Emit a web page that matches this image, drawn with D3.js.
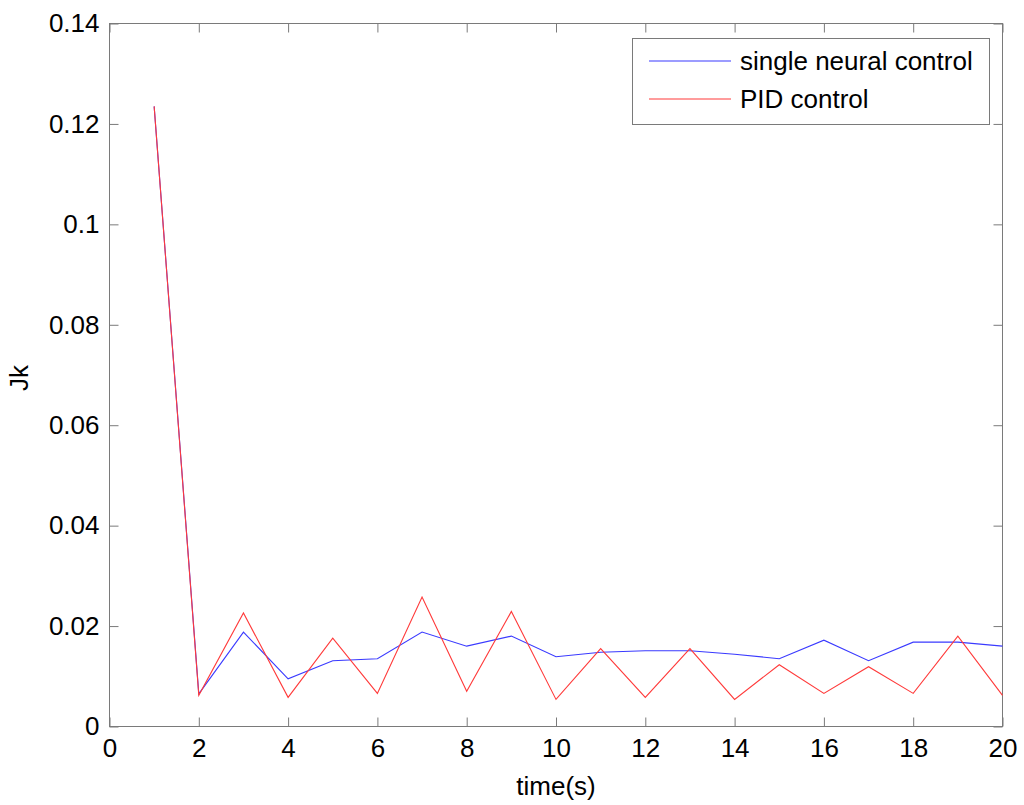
<!DOCTYPE html>
<html>
<head>
<meta charset="utf-8">
<script src="https://cdn.jsdelivr.net/npm/d3@7"></script>
<style>
  body { margin: 0; background: #fff; }
  text { font-family: "Liberation Sans", Arial, sans-serif; fill: #000; }
</style>
</head>
<body>
<div id="chart"></div>
<script>
// time steps and the two cost curves
var time = [1, 2, 3, 4, 5, 6, 7, 8, 9, 10, 11, 12, 13, 14, 15, 16, 17, 18, 19, 20];
var neural = [0.1235, 0.0065, 0.0188, 0.0095, 0.0131, 0.0135, 0.0188, 0.0160, 0.0180, 0.0139,
              0.0148, 0.0151, 0.0151, 0.0144, 0.0135, 0.0172, 0.0131, 0.0168, 0.0168, 0.0160];
var pid = [0.1235, 0.0062, 0.0226, 0.0058, 0.0176, 0.0066, 0.0258, 0.0070, 0.0229, 0.0054,
           0.0155, 0.0058, 0.0155, 0.0054, 0.0123, 0.0066, 0.0119, 0.0066, 0.0180, 0.0062];
var x_ticks = [0, 2, 4, 6, 8, 10, 12, 14, 16, 18, 20];
var y_ticks = [0, 0.02, 0.04, 0.06, 0.08, 0.1, 0.12, 0.14];
var series_names = ['single neural control', 'PID control'];
var series_colors = ['#3a3aff', '#ff3a3a'];

var chart_width  = 1024;
var chart_height = 805;
var plot_left = 109.5, plot_right = 1002.5, plot_top = 23.5, plot_bottom = 726.5;
var tick_len  = 9;
var font_size = 26;

var x_scale = d3.scaleLinear().domain([0, 20]).range([plot_left, plot_right]);
var y_scale = d3.scaleLinear().domain([0, 0.14]).range([plot_bottom, plot_top]);

var svg = d3.select('#chart')
            .append('svg')
            .attr('width', chart_width)
            .attr('height', chart_height);

// box frame
svg.append('rect')
   .attr('x', plot_left).attr('y', plot_top)
   .attr('width', plot_right - plot_left).attr('height', plot_bottom - plot_top)
   .attr('fill', 'none')
   .attr('stroke', '#7a7a7a')
   .attr('stroke-width', 1);

function fmt(d) { return d === 0 ? '0' : String(d); }

// axes with inward ticks (all four sides)
var x_bottom = d3.axisBottom(x_scale).tickValues(x_ticks).tickSize(-tick_len).tickPadding(12).tickFormat(fmt);
var x_top    = d3.axisTop(x_scale).tickValues(x_ticks).tickSize(-tick_len).tickFormat('');
var y_left   = d3.axisLeft(y_scale).tickValues(y_ticks).tickSize(-tick_len).tickPadding(10).tickFormat(fmt);
var y_right  = d3.axisRight(y_scale).tickValues(y_ticks).tickSize(-tick_len).tickFormat('');

function style_axis(g) {
  g.select('.domain').remove();
  g.selectAll('.tick line').attr('stroke', '#7a7a7a');
  g.selectAll('.tick text')
   .attr('font-family', '"Liberation Sans", Arial, sans-serif')
   .attr('font-size', font_size)
   .attr('fill', '#000');
}

svg.append('g').attr('transform', 'translate(0,' + plot_bottom + ')').call(x_bottom).call(style_axis);
svg.append('g').attr('transform', 'translate(0,' + plot_top + ')').call(x_top).call(style_axis);
svg.append('g').attr('transform', 'translate(' + plot_left + ',0)').call(y_left).call(style_axis);
svg.append('g').attr('transform', 'translate(' + plot_right + ',0)').call(y_right).call(style_axis);

// lines
var line = d3.line()
             .x(function(d) { return x_scale(d[0]); })
             .y(function(d) { return y_scale(d[1]); });

[neural, pid].forEach(function(vals, i) {
  svg.append('path')
     .datum(time.map(function(t, j) { return [t, vals[j]]; }))
     .attr('fill', 'none')
     .attr('stroke', series_colors[i])
     .attr('stroke-width', 1.1)
     .attr('d', line);
});

// axis labels
svg.append('text')
   .attr('x', (plot_left + plot_right) / 2)
   .attr('y', 795)
   .attr('text-anchor', 'middle')
   .attr('font-size', font_size)
   .text('time(s)');

svg.append('text')
   .attr('transform', 'translate(28,' + ((plot_top + plot_bottom) / 2 + 3) + ') rotate(-90)')
   .attr('text-anchor', 'middle')
   .attr('font-size', font_size)
   .text('Jk');

// legend
var legend = svg.append('g');
legend.append('rect')
      .attr('x', 632.5).attr('y', 38.5)
      .attr('width', 357).attr('height', 86)
      .attr('fill', '#fff')
      .attr('stroke', '#7a7a7a');

var legend_rows = [61, 99];
series_names.forEach(function(name, i) {
  var yy = legend_rows[i];
  legend.append('path')
        .attr('d', 'M649,' + yy + 'H731')
        .attr('fill', 'none')
        .attr('stroke', series_colors[i])
        .attr('stroke-width', 1.2);
  legend.append('text')
        .attr('x', 740).attr('y', yy + 9)
        .attr('font-size', font_size)
        .text(name);
});
</script>
</body>
</html>
